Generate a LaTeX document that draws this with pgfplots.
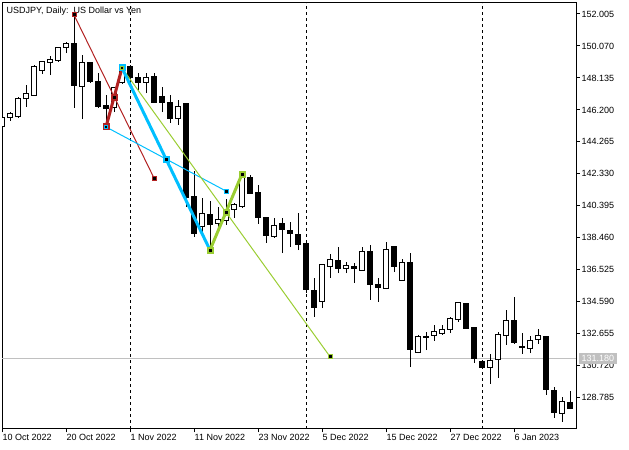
\documentclass[border=0pt]{standalone}
\usepackage{pgfplots}
\pgfplotsset{compat=1.18}
\usepackage{fontspec}
\setmainfont{Liberation Sans}
\definecolor{mtred}{HTML}{B22222}
\definecolor{mtcyan}{HTML}{00BFFF}
\definecolor{mtgreen}{HTML}{9ACD32}
\definecolor{mtgray}{HTML}{C0C0C0}
\pgfplotsset{
  wick/.style={black, line width=1bp, forget plot},
  body/.style={draw=black, line width=1bp, line join=miter, forget plot},
}
% \candle{index}{open}{high}{low}{close}
\newcommand\candle[5]{%
  \pgfmathsetmacro\xa{#1-0.28}%
  \pgfmathsetmacro\xb{#1+0.28}%
  \ifdim #5pt<#2pt \def\bodyfill{black}\else\def\bodyfill{white}\fi
  \edef\temp{\noexpand\addplot[wick] coordinates {(#1,#4) (#1,#3)};%
    \noexpand\addplot[body, fill=\bodyfill] coordinates {(\xa,#2) (\xb,#2) (\xb,#5) (\xa,#5)} -- cycle;}%
  \temp
}
\begin{document}
\begin{tikzpicture}
\path[use as bounding box] (0,0) rectangle (629bp,450bp);
\begin{axis}[
  at={(2bp,21bp)}, anchor=south west,
  scale only axis, width=574bp, height=426bp,
  xmin=0, xmax=71.75, ymin=126.8915, ymax=152.6705,
  axis line style={black, line width=1bp},
  tick style={black, line width=1bp},
  tick align=outside, major tick length=3.5bp,
  xtick pos=bottom, ytick pos=right, yticklabel pos=right,
  xtick={0,8,16,24,32,40,48,56,64},
  xticklabels={10 Oct 2022, 20 Oct 2022, 1 Nov 2022, 11 Nov 2022, 23 Nov 2022, 5 Dec 2022, 15 Dec 2022, 27 Dec 2022, 6 Jan 2023},
  ytick={128.785,130.720,132.655,134.590,136.525,138.460,140.395,142.330,144.265,146.200,148.135,150.070,152.005},
  yticklabels={128.785,130.720,132.655,134.590,136.525,138.460,140.395,142.330,144.265,146.200,148.135,150.070,152.005},
  every tick label/.append style={font=\fontsize{9bp}{10bp}\selectfont},
  xticklabel style={anchor=north west, inner sep=0pt, xshift=0.5bp, yshift=-2bp},
  yticklabel style={anchor=west, inner sep=0pt, xshift=2bp},
]
% period separators and price line
\addplot[black, line width=1bp, dash pattern=on 3bp off 3bp, forget plot] coordinates {(16,126.8915) (16,152.6705)};
\addplot[black, line width=1bp, dash pattern=on 3bp off 3bp, forget plot] coordinates {(38,126.8915) (38,152.6705)};
\addplot[black, line width=1bp, dash pattern=on 3bp off 3bp, forget plot] coordinates {(60,126.8915) (60,152.6705)};
\addplot[mtgray, line width=1bp, forget plot] coordinates {(0,131.18) (71.75,131.18)};
% candles: index, open, high, low, close
\candle{0}{145.17}{145.95}{145.05}{145.77}
\candle{1}{145.77}{146.07}{145.53}{146.01}
\candle{2}{145.83}{146.98}{145.71}{146.92}
\candle{3}{146.92}{147.71}{146.38}{147.22}
\candle{4}{147.10}{148.92}{147.10}{148.80}
\candle{5}{148.56}{149.16}{148.37}{149.10}
\candle{6}{149.04}{149.46}{148.31}{149.28}
\candle{7}{149.22}{150.01}{149.10}{149.95}
\candle{8}{149.95}{150.31}{149.64}{150.19}
\candle{9}{150.19}{151.95}{146.32}{147.65}
\candle{10}{147.59}{149.52}{145.65}{149.04}
\candle{11}{149.04}{149.10}{147.83}{147.89}
\candle{12}{147.95}{148.43}{146.32}{146.38}
\candle{13}{146.44}{147.10}{145.17}{146.26}
\candle{14}{146.32}{147.59}{146.07}{147.53}
\candle{15}{147.83}{148.92}{147.77}{148.50}
\candle{16}{148.80}{148.92}{147.53}{148.19}
\candle{17}{148.19}{148.43}{147.41}{147.83}
\candle{18}{147.83}{148.43}{147.22}{148.19}
\candle{19}{148.25}{148.43}{146.62}{146.62}
\candle{20}{147.04}{147.59}{146.07}{146.62}
\candle{21}{146.62}{147.10}{145.41}{145.71}
\candle{22}{145.71}{146.80}{145.29}{146.38}
\candle{23}{146.56}{146.62}{140.33}{140.93}
\candle{24}{140.99}{142.50}{138.51}{138.75}
\candle{25}{139.12}{140.87}{138.81}{139.96}
\candle{26}{139.90}{140.69}{137.72}{139.24}
\candle{27}{139.30}{140.33}{138.93}{139.54}
\candle{28}{139.48}{140.81}{139.24}{139.84}
\candle{29}{140.20}{140.57}{139.66}{140.45}
\candle{30}{140.33}{142.44}{140.27}{142.32}
\candle{31}{142.14}{142.26}{141.17}{141.17}
\candle{32}{141.23}{141.66}{139.30}{139.66}
\candle{33}{139.66}{139.66}{138.15}{138.63}
\candle{34}{138.51}{139.66}{138.45}{139.18}
\candle{35}{139.30}{139.66}{137.54}{138.99}
\candle{36}{138.93}{139.42}{137.91}{138.75}
\candle{37}{138.69}{139.96}{137.72}{138.03}
\candle{38}{138.09}{138.21}{135.12}{135.36}
\candle{39}{135.30}{136.03}{133.67}{134.27}
\candle{40}{134.58}{136.88}{134.21}{136.82}
\candle{41}{136.70}{137.48}{136.03}{137.12}
\candle{42}{137.06}{137.91}{136.33}{136.63}
\candle{43}{136.63}{137.00}{136.33}{136.76}
\candle{44}{136.70}{136.94}{135.73}{136.63}
\candle{45}{136.51}{137.91}{136.51}{137.66}
\candle{46}{137.66}{138.03}{134.70}{135.61}
\candle{47}{135.61}{136.03}{134.58}{135.48}
\candle{48}{135.42}{138.21}{135.36}{137.78}
\candle{49}{137.91}{137.91}{136.39}{136.70}
\candle{50}{135.85}{137.18}{135.85}{136.94}
\candle{51}{136.94}{137.54}{130.64}{131.73}
\candle{52}{131.55}{132.58}{131.49}{132.46}
\candle{53}{132.46}{132.76}{131.67}{132.40}
\candle{54}{132.52}{133.19}{132.22}{132.82}
\candle{55}{132.70}{133.19}{132.58}{132.94}
\candle{56}{132.94}{133.67}{132.70}{133.55}
\candle{57}{133.49}{134.58}{133.37}{134.52}
\candle{58}{134.46}{134.52}{133.00}{133.00}
\candle{59}{133.06}{133.06}{130.89}{131.13}
\candle{60}{130.95}{131.01}{130.58}{130.64}
\candle{61}{130.64}{131.43}{129.62}{131.01}
\candle{62}{131.07}{132.76}{129.98}{132.64}
\candle{63}{132.52}{134.09}{131.98}{133.43}
\candle{64}{133.43}{134.88}{132.04}{132.10}
\candle{65}{131.91}{132.70}{131.43}{131.85}
\candle{66}{131.79}{132.52}{131.49}{132.22}
\candle{67}{132.28}{132.94}{132.04}{132.52}
\candle{68}{132.46}{132.46}{128.95}{129.31}
\candle{69}{129.25}{129.43}{127.56}{127.86}
\candle{70}{127.80}{128.83}{127.32}{128.53}
\candle{71}{128.47}{129.19}{128.10}{128.16}
% pattern lines
\addplot[mtred, line width=1bp, forget plot] coordinates {(9,151.95) (19,142.08)};
\addplot[mtcyan, line width=1bp, forget plot] coordinates {(13,145.17) (28,141.29)};
\addplot[mtgreen, line width=1bp, forget plot] coordinates {(15,148.74) (41,131.27)};
\addplot[mtred, line width=3bp, forget plot] coordinates {(13,145.17) (15,148.74)};
\addplot[mtcyan, line width=3bp, forget plot] coordinates {(15,148.74) (26,137.72)};
\addplot[mtgreen, line width=3bp, forget plot] coordinates {(26,137.72) (30,142.32)};
% markers
\addplot[only marks, mark=square*, mark size=2bp, mark options={draw=mtred, fill=black, line width=1bp}, forget plot] coordinates {(9,151.95) (19,142.08)};
\addplot[only marks, mark=square*, mark size=2.5bp, mark options={draw=mtred, fill=black, line width=2bp}, forget plot] coordinates {(13,145.17) (14,146.955)};
\addplot[only marks, mark=square*, mark size=1.5bp, mark options={draw=mtcyan, fill=black, line width=1bp}, forget plot] coordinates {(13,145.17)};
\addplot[only marks, mark=square*, mark size=2.5bp, mark options={draw=mtcyan, fill=black, line width=2bp}, forget plot] coordinates {(15,148.74) (20.5,143.23)};
\addplot[only marks, mark=square*, mark size=1.5bp, mark options={draw=mtgreen, fill=black, line width=1bp}, forget plot] coordinates {(15,148.74)};
\addplot[only marks, mark=square*, mark size=2bp, mark options={draw=mtcyan, fill=black, line width=1bp}, forget plot] coordinates {(28,141.29)};
\addplot[only marks, mark=square*, mark size=2.5bp, mark options={draw=mtgreen, fill=black, line width=2bp}, forget plot] coordinates {(26,137.72) (28,140.02) (30,142.32)};
\addplot[only marks, mark=square*, mark size=2bp, mark options={draw=mtgreen, fill=black, line width=1bp}, forget plot] coordinates {(41,131.27)};
\node[anchor=north west, inner sep=0pt, xshift=4.5bp, yshift=-4bp, font=\fontsize{9bp}{10bp}\selectfont] at (rel axis cs:0,1) {USDJPY, Daily:\ \ US Dollar vs Yen};
\coordinate (pl) at (axis cs:71.75,131.18);
\end{axis}
\node[fill=mtgray, text=white, anchor=west, inner xsep=2.5bp, inner ysep=0pt, minimum height=11bp, font=\fontsize{9bp}{10bp}\selectfont] at ([xshift=3bp]pl) {131.180};
\end{tikzpicture}
\end{document}
